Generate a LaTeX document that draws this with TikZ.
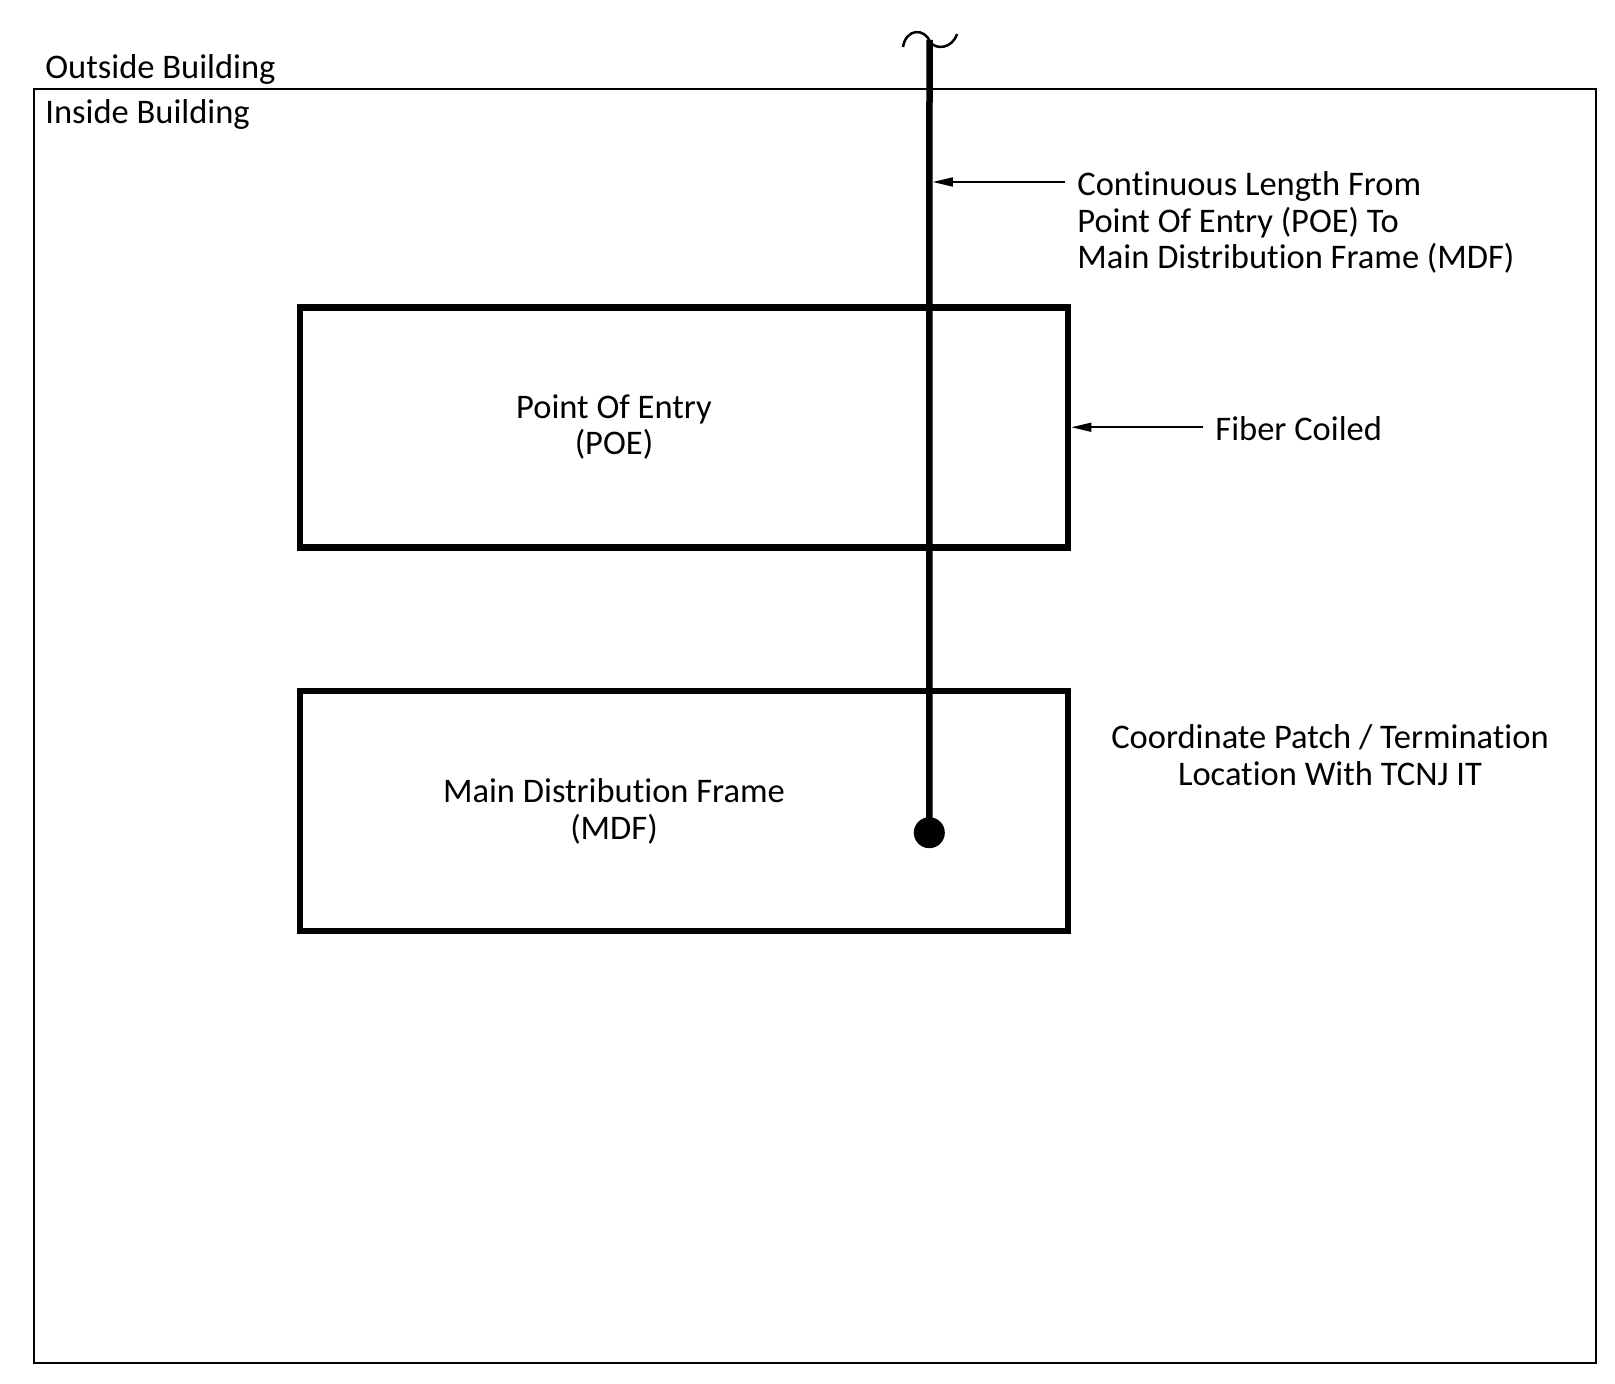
\documentclass[tikz,border=0pt]{standalone}
\usepackage{fontspec}
\setmainfont{Carlito}[RawFeature={-liga}]
\usetikzlibrary{arrows.meta}
\begin{document}
\begin{tikzpicture}[x=0.5pt,y=-0.5pt,
  lbl/.style={inner sep=0pt, font=\fontsize{17.25pt}{18.3pt}\selectfont},
  framebox/.style={draw, line width=3.35pt, rectangle, inner sep=0pt, minimum width=384pt, minimum height=120pt},
  arr/.style={line width=0.75pt, -{Triangle[length=10pt,width=4.5pt]}},
  fiberline/.style={line width=3.25pt}]
\useasboundingbox (0,0) rectangle (1615,1384);
% building outline
\node[draw, line width=1pt, rectangle, inner sep=0pt, outer sep=0pt, minimum width=781pt, minimum height=637.15pt] (inside) at (814.5,725.85) {};
\node[lbl, anchor=base west] (outlbl) at (45,79) {Outside Building};
\node[lbl, anchor=base west] (inlbl) at (45,124) {Inside Building};
% boxes
\node[framebox] (poe) at (684,427.25) {};
\node[framebox] (mdf) at (684,811) {};
\node[lbl, align=center, anchor=base] (poetext) at (614,455) {Point Of Entry\\(POE)};
\node[lbl, align=center, anchor=base] (mdftext) at (614,839) {Main Distribution Frame\\(MDF)};
% fiber
\coordinate (top) at (929.5,40);
\node[circle, fill=black, inner sep=0pt, minimum size=15.5pt] (dot) at (929.3,832.7) {};
\draw[fiberline] (top) -- (dot.center);
\draw[line width=1.25pt] (903,47) .. controls (906,28) and (925,28) .. (930,42) .. controls (936,50) and (952,49) .. (957,34);
% labels
\node[lbl, align=left, anchor=base west] (cont) at (1077,269) {Continuous Length From\\Point Of Entry (POE) To\\Main Distribution Frame (MDF)};
\coordinate (conttail) at (1065,182);
\coordinate (onfiber) at (932.75,182);
\draw[arr] (conttail) -- (onfiber);
\node[lbl, anchor=base west] (fiber) at (1215,441) {Fiber Coiled};
\coordinate (fibertail) at (1203,427.25);
\draw[arr] (fibertail) -- (poe.east);
\node[lbl, align=center, anchor=base] (coord) at (1330,785.5) {Coordinate Patch / Termination\\Location With TCNJ IT};
\end{tikzpicture}
\end{document}
